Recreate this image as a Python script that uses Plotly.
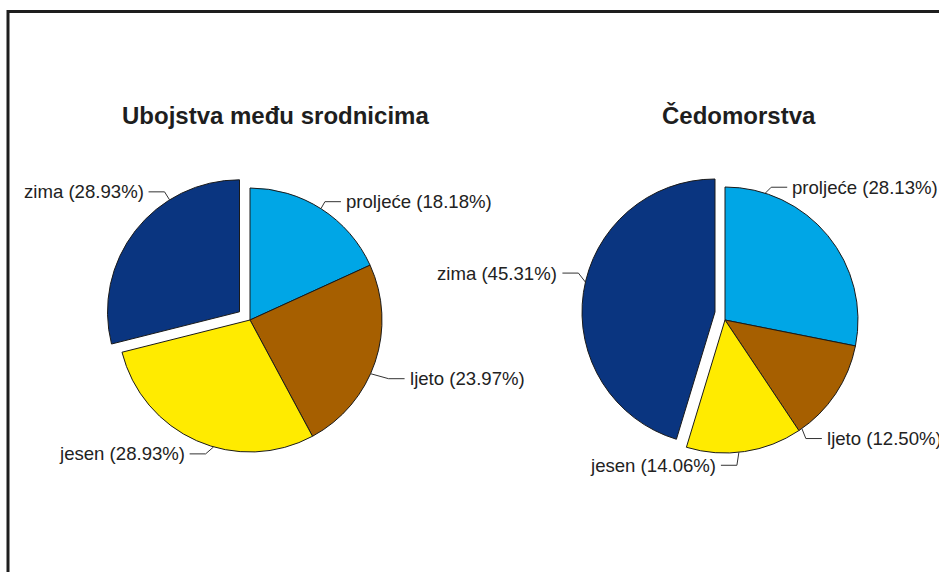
import math
import plotly.graph_objects as go

# ---------------- data ----------------
seasons = ["proljeće", "ljeto", "jesen", "zima"]
titles = ["Ubojstva među srodnicima", "Čedomorstva"]
counts_srodnici = [22, 29, 35, 35]      # 18.18 / 23.97 / 28.93 / 28.93 %
counts_cedomorstva = [18, 8, 9, 29]     # 28.13 / 12.50 / 14.06 / 45.31 %
colors = ["#00A6E6", "#A65F00", "#FFEB00", "#0A3580"]
exploded = [False, False, False, True]   # zima is pulled out in both charts

# ---------------- layout helpers (pixels of the 939x572 page) ----------------
W, H = 939, 572
pie_layout = [
    dict(cx=250, cy=320, r=132, shift=(-10.5, -8.2), title_x=275,
         label_angles=[32.5, 114, 196, 328],
         elbows=[(4, -7), (18, 5), (-8, 7), (-5, -8)],
         label_sides=[1, 1, -1, -1]),
    dict(cx=725, cy=320, r=133, shift=(-10, -8), title_x=739,
         label_angles=[17.6, 144.7, 174, 283],
         elbows=[(6, -6), (4, 10), (-2, 13), (-7, -9)],
         label_sides=[1, 1, -1, -1]),
]
series = [counts_srodnici, counts_cedomorstva]

FONT = "Liberation Sans, Arial, Helvetica, sans-serif"
TRANSPARENT = "rgba(0,0,0,0)"
fig = go.Figure()
annotations = []
shapes = []


def px(x):
    return x / W


def py(y):
    return 1 - y / H


def pct_text(v, total):
    p = math.floor(v / total * 10000 + 0.5) / 100
    return f"{p:.2f}%"


for values, title, L in zip(series, titles, pie_layout):
    r, cx, cy = L["r"], L["cx"], L["cy"]
    for part in (False, True):
        dx, dy = L["shift"] if part else (0, 0)
        show = [e == part for e in exploded]
        fig.add_trace(go.Pie(
            labels=seasons, values=values, sort=False, direction="clockwise",
            rotation=0,
            marker=dict(colors=[c if s else TRANSPARENT for c, s in zip(colors, show)],
                        line=dict(color="#1a1a1a", width=[1 if s else 0 for s in show])),
            textinfo="none", hoverinfo="skip", showlegend=False,
            domain=dict(x=[px(cx + dx - r), px(cx + dx + r)],
                        y=[py(cy + dy + r), py(cy + dy - r)]),
        ))
    total = sum(values)
    for i, v in enumerate(values):
        dx, dy = L["shift"] if exploded[i] else (0, 0)
        a = math.radians(L["label_angles"][i])
        p_x = cx + dx + r * math.sin(a)
        p_y = cy + dy - r * math.cos(a)
        e_x = p_x + L["elbows"][i][0]
        e_y = p_y + L["elbows"][i][1]
        side = L["label_sides"][i]
        h_x = e_x + side * 16
        shapes.append(dict(
            type="path", xref="paper", yref="paper",
            path=f"M {px(p_x)},{py(p_y)} L {px(e_x)},{py(e_y)} L {px(h_x)},{py(e_y)}",
            line=dict(color="#333333", width=1)))
        annotations.append(dict(
            x=px(h_x + side * 3), y=py(e_y), xref="paper", yref="paper",
            text=f"{seasons[i]} ({pct_text(v, total)})", showarrow=False,
            xanchor="left" if side > 0 else "right", yanchor="middle",
            font=dict(family=FONT, size=18.6, color="#222222")))
    annotations.append(dict(
        x=px(L["title_x"]), y=py(115), xref="paper", yref="paper",
        text=f"<b>{title}</b>", showarrow=False, xanchor="center",
        yanchor="middle", font=dict(family=FONT, size=24, color="#1e1e1e")))

# outer frame (right/bottom edges run off the page)
shapes.append(dict(type="rect", xref="paper", yref="paper",
                   x0=px(8), x1=1.2, y0=-0.2, y1=py(11.5),
                   line=dict(color="#1e1e1e", width=3), fillcolor=TRANSPARENT))

fig.update_layout(
    width=W, height=H, margin=dict(l=0, r=0, t=0, b=0),
    paper_bgcolor="white", plot_bgcolor="white",
    annotations=annotations, shapes=shapes,
)
fig.write_html(
    "out.html",
    config={"displayModeBar": False},
    post_script="document.body.style.margin='0';document.body.style.overflow='hidden';",
)
